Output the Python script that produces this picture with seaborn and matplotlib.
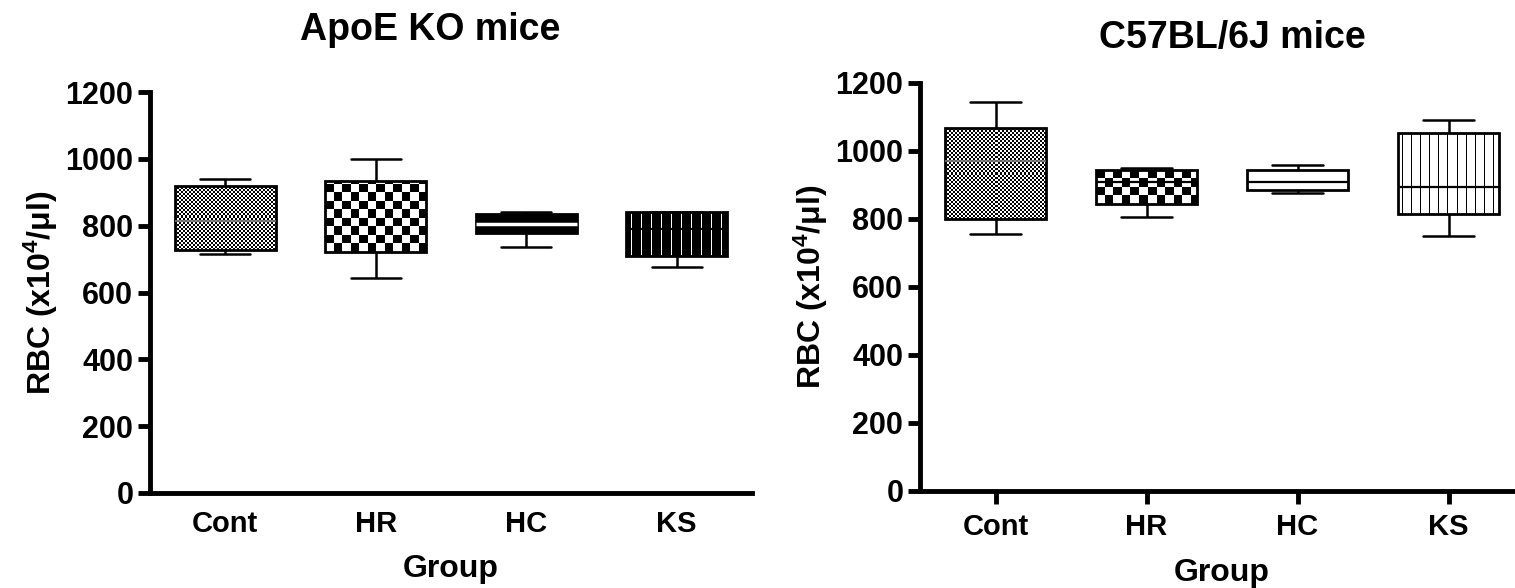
import numpy as np
import pandas as pd
import matplotlib
matplotlib.use("Agg")
import matplotlib.pyplot as plt
import seaborn as sns

# ---------------- data ----------------
groups = ["Cont", "HR", "HC", "KS"]

apoe_min = [715, 644, 736, 675]
apoe_q1 = [728, 721, 778, 709]
apoe_med = [814, 820, 806, 790]
apoe_q3 = [920, 935, 836, 840]
apoe_max = [940, 1000, 841, 842]

c57_min = [756, 807, 877, 751]
c57_q1 = [800, 845, 886, 815]
c57_med = [970, 908, 909, 894]
c57_q3 = [1068, 944, 943, 1053]
c57_max = [1144, 951, 958, 1090]

yticks = [0, 200, 400, 600, 800, 1000, 1200]
titles = ["ApoE KO mice", "C57BL/6J mice"]
xlabel = "Group"
ylabel = "RBC (x10$^{\\mathbf{4}}$/\u03bcl)"

# ---------------- style ----------------
sns.set_style("ticks")
plt.rcParams["font.family"] = ["Liberation Sans", "DejaVu Sans"]
plt.rcParams["font.weight"] = "bold"
plt.rcParams["mathtext.fontset"] = "custom"
plt.rcParams["mathtext.rm"] = "Liberation Sans:bold"
plt.rcParams["mathtext.bf"] = "Liberation Sans:bold"
plt.rcParams["mathtext.it"] = "Liberation Sans:bold"
for k in ("text.color", "axes.labelcolor", "axes.edgecolor",
          "xtick.color", "ytick.color"):
    plt.rcParams[k] = "black"


def long_df(mins, q1s, meds, q3s, maxs):
    rows = []
    for g, a, b, c, d, e in zip(groups, mins, q1s, meds, q3s, maxs):
        for v in (a, b, c, d, e):
            rows.append({"Group": g, "RBC": v})
    return pd.DataFrame(rows)


W, H = 1515, 588
fig = plt.figure(figsize=(W / 100, H / 100), dpi=100)
ax1 = fig.add_axes([150 / W, (H - 493) / H, 602 / W, 401 / H])
ax2 = fig.add_axes([920 / W, (H - 491) / H, 604 / W, 408 / H])

panels = [
    (ax1, long_df(apoe_min, apoe_q1, apoe_med, apoe_q3, apoe_max),
     ["fine", "checker", "black", "wstripes"], True),
    (ax2, long_df(c57_min, c57_q1, c57_med, c57_q3, c57_max),
     ["fine", "checker", "white", "bstripes"], False),
]


def texture(ax, patch, kind):
    verts = patch.get_path().vertices
    x0, y0 = verts.min(axis=0)
    x1, y1 = verts.max(axis=0)
    p0 = ax.transData.transform((x0, y0))
    p1 = ax.transData.transform((x1, y1))
    w = max(int(round(abs(p1[0] - p0[0]))), 2)
    h = max(int(round(abs(p1[1] - p0[1]))), 2)
    yy, xx = np.mgrid[0:h, 0:w]
    if kind == "fine":
        img = ((xx // 2 + yy // 2) % 2).astype(float)
    elif kind == "checker":
        img = ((xx // 8.5).astype(int) + (yy // 8.5).astype(int)) % 2
        img = img.astype(float)
    elif kind == "black":
        img = np.ones((h, w))
    elif kind == "white":
        img = np.zeros((h, w))
    elif kind == "wstripes":
        img = np.ones((h, w))
        img[:, (xx[0] % 10) == 5] = 0
    else:  # bstripes
        img = np.zeros((h, w))
        img[:, (xx[0] % 9) == 4] = 1
    im = ax.imshow(img, extent=(x0, x1, y0, y1), origin="lower", cmap="gray_r",
                   vmin=0, vmax=1, interpolation="nearest", aspect="auto",
                   zorder=2.02)
    im.set_clip_path(patch)
    patch.set_facecolor("none")
    patch.set_zorder(2.05)


for ax, df, kinds, left in panels:
    sns.boxplot(data=df, x="Group", y="RBC", order=groups, whis=(0, 100),
                width=0.67, color="white", linecolor="black", linewidth=2,
                fliersize=0, ax=ax,
                whiskerprops=dict(linewidth=1.8),
                capprops=dict(linewidth=1.8),
                medianprops=dict(linewidth=1.6, color="black"))
    ax.set_xlim(-0.5, 3.5)
    ax.set_ylim(0, 1200)
    ax.set_yticks(yticks)
    ax.set_yticklabels([str(t) for t in yticks])
    for patch, kind in zip(list(ax.patches), kinds):
        texture(ax, patch, kind)
    for ln in ax.lines:
        xd = np.asarray(ln.get_xdata(), float)
        yd = np.asarray(ln.get_ydata(), float)
        if len(xd) == 2 and yd[0] == yd[1] and abs(xd[1] - xd[0]) > 0.6:
            kind = kinds[int(round(xd.mean()))]
            ln.set_zorder(2.1)
            if kind == "black":
                ln.set_color("white")
                ln.set_linewidth(2.5)
            elif kind == "fine":
                ln.set_color("#777777")
                ln.set_linewidth(1.2)
            elif kind == "checker" and left:
                ln.set_visible(False)
    sns.despine(ax=ax)
    for s in ("left", "bottom"):
        ax.spines[s].set_linewidth(3.5)
    ax.tick_params(axis="y", width=3.5, length=9, labelsize=22, pad=3)
    ax.tick_params(axis="x", width=3.5, length=0 if left else 9,
                   labelsize=21, pad=12 if left else 7)
    for lab in ax.get_xticklabels() + ax.get_yticklabels():
        lab.set_fontweight("bold")
    ax.set_xlabel(xlabel, fontsize=23, fontweight="bold", labelpad=12)
    ax.set_ylabel(ylabel, fontsize=23, fontweight="bold", labelpad=4)

ax1.text(0.465, 1.155, titles[0], transform=ax1.transAxes, ha="center",
         va="center", fontsize=27, fontweight="bold")
ax2.text(0.517, 1.11, titles[1], transform=ax2.transAxes, ha="center",
         va="center", fontsize=27, fontweight="bold")

fig.savefig("out.png", dpi=100)
